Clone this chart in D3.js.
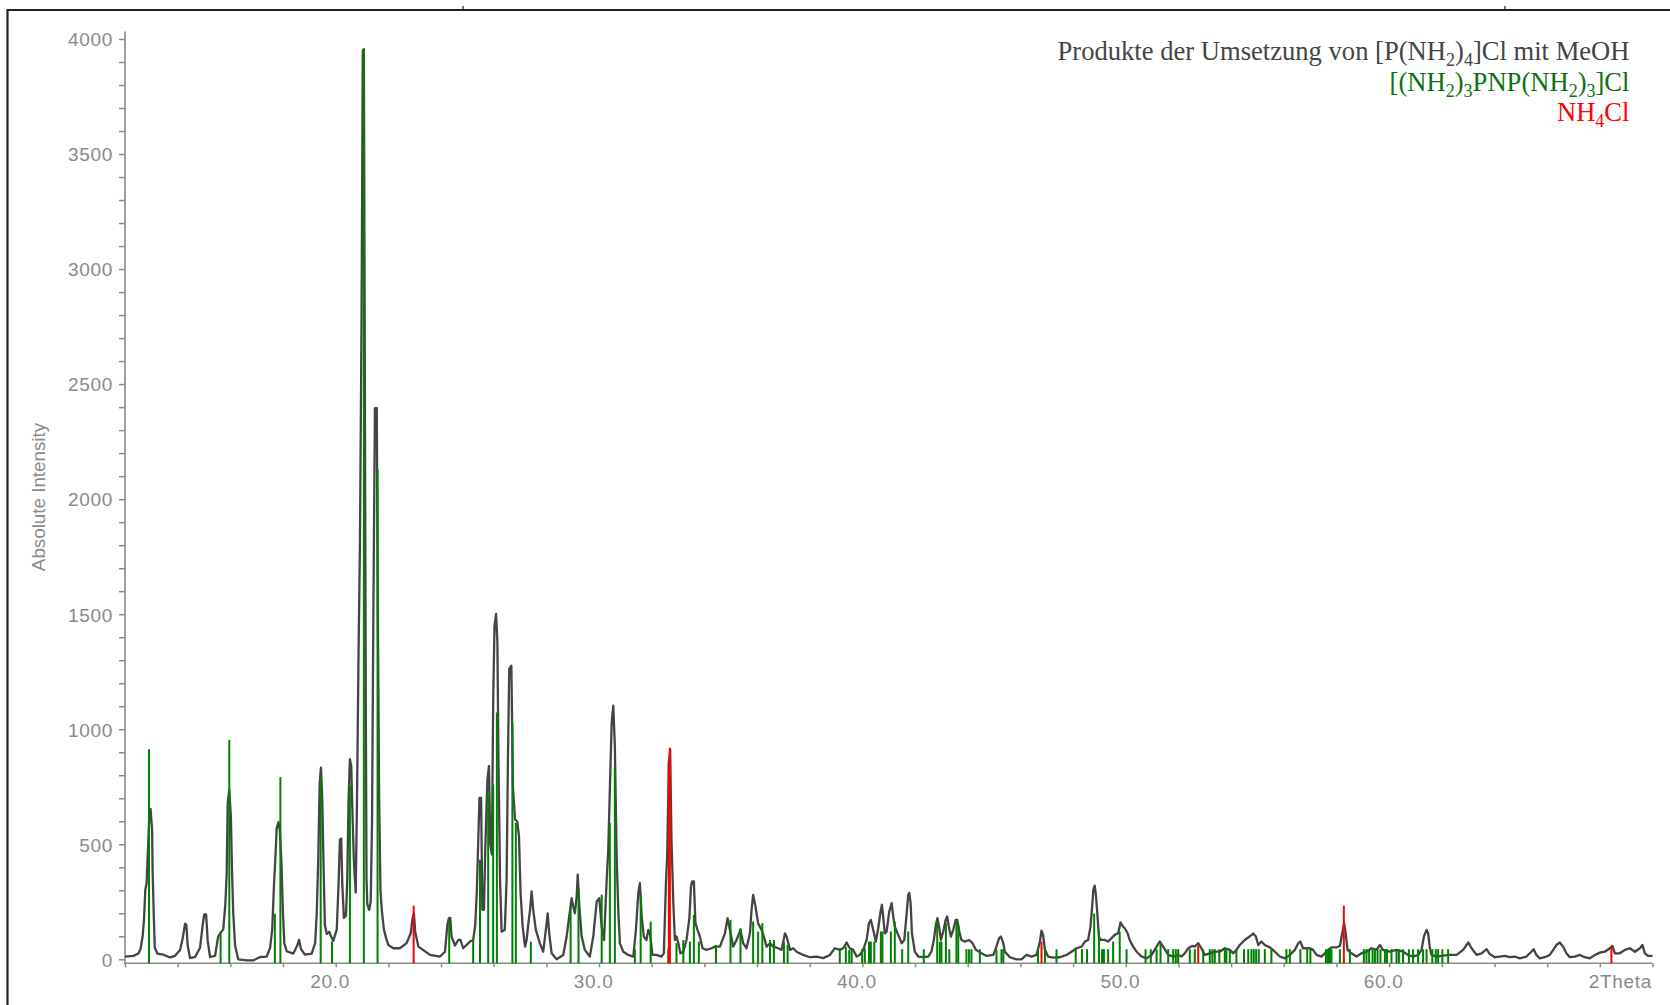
<!DOCTYPE html>
<html lang="de">
<head>
    <meta charset="UTF-8">
    <title>Pulverdiffraktogramm</title>
    <script src="https://cdn.jsdelivr.net/npm/d3@7/dist/d3.min.js"></script>
    <style>
        body {
            margin: 0;
            padding: 0;
            background: #fff;
        }
        .axis path {
            display: none;
        }
        .axis line {
            stroke: #8a8a8a;
            stroke-width: 1.5;
        }
        .axis text {
            fill: #8a8a8a;
            font-family: "Liberation Sans", Arial, sans-serif;
            font-size: 19px;
            letter-spacing: 0.7px;
        }
        .profile {
            fill: none;
            stroke: #444;
            stroke-width: 2.3;
            stroke-linejoin: round;
        }
        .legend {
            font-family: "Liberation Serif", "Times New Roman", serif;
            font-size: 26.6px;
            text-anchor: end;
        }
    </style>
</head>
<body>
<svg width="1670" height="1005"></svg>
<script>
    // gemessenes Profil: [2Theta, Intensitaet]
    var profile = [
        [12.00,12],[12.32,15],[12.51,25],[12.59,45],[12.67,100],[12.72,170],[12.77,300],[12.82,330],[12.87,470],[12.92,610],
        [12.97,654],[13.03,560],[13.05,380],[13.09,200],[13.13,50],[13.23,25],[13.46,20],[13.71,8],[13.90,15],[14.09,40],
        [14.19,90],[14.28,155],[14.33,150],[14.38,60],[14.47,5],[14.66,10],[14.85,50],[14.95,150],[15.01,195],[15.08,195],
        [15.14,80],[15.23,10],[15.42,15],[15.54,100],[15.63,115],[15.73,130],[15.81,240],[15.86,370],[15.90,680],[15.96,735],
        [16.02,620],[16.06,400],[16.11,200],[16.18,60],[16.30,0],[16.62,-5],[16.87,-5],[17.13,10],[17.38,12],[17.51,50],
        [17.59,130],[17.66,330],[17.71,440],[17.76,570],[17.83,596],[17.88,560],[17.94,420],[17.99,220],[18.05,70],[18.14,35],
        [18.39,25],[18.54,60],[18.61,85],[18.68,45],[18.83,20],[19.09,25],[19.22,70],[19.28,200],[19.34,440],[19.39,760],
        [19.44,833],[19.49,700],[19.54,400],[19.59,150],[19.66,110],[19.76,120],[19.82,100],[19.91,80],[20.04,130],[20.11,330],
        [20.16,520],[20.21,525],[20.25,330],[20.31,180],[20.39,190],[20.44,350],[20.49,700],[20.54,870],[20.59,840],[20.64,620],
        [20.69,430],[20.76,290],[20.81,700],[20.87,1350],[20.92,1800],[20.98,2750],[21.03,3950],[21.07,3956],[21.10,2800],[21.14,1200],
        [21.17,350],[21.20,240],[21.27,215],[21.33,250],[21.38,600],[21.43,1500],[21.49,2396],[21.56,2396],[21.60,1500],[21.65,700],
        [21.70,300],[21.75,215],[21.83,130],[21.92,90],[22.00,62],[22.19,48],[22.44,48],[22.69,70],[22.85,113],[22.92,180],
        [22.97,200],[23.02,120],[23.14,55],[23.33,40],[23.58,19],[23.96,12],[24.15,33],[24.24,150],[24.30,179],[24.35,180],
        [24.40,99],[24.53,60],[24.66,84],[24.74,84],[24.84,48],[25.10,77],[25.22,84],[25.30,150],[25.36,300],[25.41,500],
        [25.46,702],[25.52,702],[25.57,215],[25.63,215],[25.68,477],[25.76,782],[25.82,840],[25.87,500],[25.93,455],[25.98,1116],
        [26.03,1450],[26.09,1501],[26.14,1378],[26.18,870],[26.24,346],[26.30,120],[26.42,128],[26.49,346],[26.54,869],[26.59,1262],
        [26.67,1276],[26.73,750],[26.81,608],[26.89,600],[26.96,535],[27.02,288],[27.10,142],[27.19,55],[27.25,84],[27.31,150],
        [27.38,215],[27.44,295],[27.50,215],[27.60,128],[27.75,70],[27.88,33],[27.98,128],[28.05,200],[28.11,110],[28.20,26],
        [28.39,0],[28.64,19],[28.77,99],[28.87,190],[28.96,266],[29.02,230],[29.08,200],[29.15,273],[29.19,368],[29.25,230],
        [29.34,99],[29.46,41],[29.65,12],[29.78,99],[29.91,251],[30.01,266],[30.10,142],[30.19,84],[30.29,346],[30.35,477],
        [30.41,738],[30.48,1029],[30.54,1102],[30.60,927],[30.67,433],[30.73,215],[30.79,70],[30.92,33],[31.11,19],[31.30,12],
        [31.40,128],[31.49,288],[31.55,331],[31.62,186],[31.70,99],[31.80,84],[31.87,128],[31.93,115],[32.03,19],[32.18,19],
        [32.37,12],[32.46,26],[32.54,331],[32.59,462],[32.65,855],[32.70,913],[32.75,520],[32.82,244],[32.88,84],[32.94,99],
        [33.01,70],[33.09,26],[33.20,33],[33.32,84],[33.43,179],[33.49,317],[33.54,339],[33.60,339],[33.66,157],[33.74,128],
        [33.83,99],[33.93,48],[34.08,41],[34.27,48],[34.40,55],[34.59,55],[34.78,113],[34.88,179],[34.97,128],[35.09,55],
        [35.22,84],[35.37,128],[35.47,70],[35.60,48],[35.73,113],[35.79,215],[35.85,280],[35.94,230],[36.04,157],[36.17,128],
        [36.26,99],[36.36,55],[36.49,70],[36.61,55],[36.80,48],[36.93,41],[37.06,113],[37.12,99],[37.25,41],[37.37,48],
        [37.50,33],[37.75,19],[38.01,9],[38.26,12],[38.51,5],[38.77,19],[38.95,48],[39.14,41],[39.27,48],[39.40,73],
        [39.52,48],[39.65,41],[39.78,12],[39.90,19],[40.03,41],[40.16,84],[40.25,157],[40.32,171],[40.41,128],[40.51,77],
        [40.60,135],[40.69,208],[40.74,237],[40.79,186],[40.85,113],[40.92,120],[41.02,208],[41.11,244],[41.17,186],[41.23,142],
        [41.36,106],[41.49,70],[41.59,84],[41.68,200],[41.74,280],[41.78,288],[41.83,244],[41.88,113],[41.99,33],[42.12,12],
        [42.31,9],[42.50,12],[42.62,33],[42.71,84],[42.79,150],[42.85,179],[42.92,135],[42.98,84],[43.07,121],[43.16,171],
        [43.22,186],[43.28,142],[43.36,99],[43.45,128],[43.54,171],[43.60,171],[43.68,121],[43.76,84],[43.89,77],[44.05,84],
        [44.18,70],[44.31,41],[44.52,26],[44.71,15],[44.97,19],[45.09,55],[45.19,92],[45.26,99],[45.35,70],[45.41,33],
        [45.60,9],[45.85,0],[46.04,0],[46.23,19],[46.42,12],[46.61,19],[46.74,77],[46.80,125],[46.86,106],[46.93,41],
        [47.05,12],[47.24,7],[47.50,9],[47.75,19],[47.94,33],[48.13,48],[48.32,55],[48.45,77],[48.57,84],[48.66,142],
        [48.72,222],[48.77,302],[48.82,320],[48.86,288],[48.91,215],[48.98,99],[49.05,84],[49.21,84],[49.33,77],[49.46,92],
        [49.58,106],[49.71,113],[49.80,160],[49.88,145],[49.96,135],[50.07,113],[50.15,84],[50.28,55],[50.41,33],[50.60,12],
        [50.79,4],[50.98,19],[51.17,55],[51.29,77],[51.42,55],[51.61,19],[51.80,12],[51.99,19],[52.12,12],[52.24,26],
        [52.37,48],[52.52,58],[52.62,55],[52.75,70],[52.87,48],[53.00,19],[53.19,26],[53.38,33],[53.57,33],[53.76,48],
        [53.95,41],[54.08,26],[54.20,41],[54.33,62],[54.52,84],[54.71,100],[54.84,112],[54.94,99],[55.03,62],[55.15,77],
        [55.28,62],[55.47,52],[55.66,33],[55.85,12],[56.04,4],[56.23,19],[56.42,41],[56.55,70],[56.63,77],[56.73,48],
        [56.99,48],[57.11,41],[57.24,19],[57.43,12],[57.56,26],[57.68,41],[57.81,52],[58.00,52],[58.13,58],[58.22,113],
        [58.29,157],[58.35,113],[58.42,41],[58.57,26],[58.76,12],[58.95,26],[59.14,33],[59.33,48],[59.52,41],[59.65,62],
        [59.77,41],[60.02,33],[60.28,41],[60.53,33],[60.72,19],[60.91,12],[61.10,19],[61.23,41],[61.32,99],[61.42,128],
        [61.48,113],[61.54,55],[61.61,19],[61.80,12],[62.05,16],[62.30,19],[62.56,19],[62.81,41],[62.94,62],[63.01,73],
        [63.13,48],[63.32,19],[63.51,26],[63.70,44],[63.82,23],[64.01,9],[64.20,12],[64.39,15],[64.58,9],[64.77,12],
        [64.96,4],[65.21,12],[65.40,33],[65.49,44],[65.59,19],[65.72,4],[65.91,9],[66.10,19],[66.23,41],[66.35,62],
        [66.48,73],[66.61,55],[66.73,26],[66.86,9],[67.05,12],[67.24,19],[67.43,9],[67.62,4],[67.81,19],[68.00,29],
        [68.19,33],[68.38,48],[68.48,58],[68.57,26],[68.76,26],[68.95,41],[69.14,48],[69.33,33],[69.52,48],[69.62,62],
        [69.71,26],[69.83,15],[70.00,15]
    ];

    // Referenzreflexe [(NH2)3PNP(NH2)3]Cl
    var pnpTheta = [12.91,15.63,15.96,17.69,17.90,19.43,19.86,20.54,21.07,21.59,24.31,25.22,25.48,25.79,25.98,26.12,26.71,26.84,27.41,
        28.92,29.22,30.10,30.41,30.60,31.36,31.58,31.96,32.63,32.94,33.20,33.45,33.60,33.79,34.44,34.99,35.37,35.85,36.04,36.20,
        36.49,36.64,37.02,37.16,39.14,39.37,39.50,39.59,39.99,40.09,40.25,40.32,40.45,40.70,40.76,41.08,41.23,41.51,41.74,42.33,
        42.84,42.94,43.00,43.17,43.30,43.57,43.64,43.95,44.05,44.14,44.46,45.09,45.28,45.35,46.67,46.93,47.37,48.10,48.34,48.53,
        48.80,48.98,49.10,49.17,49.33,49.52,49.77,50.03,50.75,50.95,51.17,51.32,51.61,51.80,51.90,51.99,52.43,52.62,52.94,53.19,
        53.29,53.38,53.55,53.76,53.82,53.95,54.20,54.49,54.65,54.77,54.86,54.95,55.05,55.28,55.53,56.10,56.23,56.63,56.89,57.01,
        57.60,57.68,57.75,57.81,58.13,58.51,59.04,59.14,59.24,59.37,59.46,59.56,59.67,59.84,59.92,60.09,60.28,60.37,60.53,60.75,
        60.91,61.10,61.29,61.42,61.64,61.77,61.86,62.02,62.24];
    var pnpInt = [913,120,953,198,792,792,77,756,3950,2130,164,84,433,717,760,1073,1029,593,77,
        230,310,281,593,833,44,281,164,44,70,84,77,193,77,62,171,135,164,120,157,
        84,84,77,62,48,55,41,48,44,48,77,77,77,121,121,121,164,44,121,44,
        164,77,77,157,44,164,150,44,44,44,44,44,44,44,44,44,44,44,44,44,
        198,121,44,44,44,77,121,44,44,44,44,77,44,44,44,44,44,44,44,44,
        44,44,44,44,44,44,44,44,44,44,44,44,44,44,44,44,44,44,44,44,
        44,44,44,44,44,44,44,44,44,44,44,44,44,44,44,44,44,44,44,44,
        44,44,44,44,44,44,44,44,44];

    // Referenzreflexe NH4Cl
    var nh4clTheta = [22.96, 32.65, 32.69, 46.80, 52.75, 58.28, 68.44];
    var nh4clInt = [233, 860, 920, 77, 58, 233, 58];

    var yTicks = d3.range(0, 4001, 100);
    var yLabels = [0, 500, 1000, 1500, 2000, 2500, 3000, 3500, 4000];
    var xTicks = d3.range(12, 70.01, 2);
    var xLabels = [20, 30, 40, 50, 60];

    var svg = d3.select('svg');
    var x = d3.scaleLinear().domain([12, 70]).range([125, 1652.5]);
    var y = d3.scaleLinear().domain([0, 4000]).range([959.3, 39]);
    var axisY = 963.3;

    // Rahmen oben / links
    svg.append('line').attr('x1', 7.5).attr('x2', 1670).attr('y1', 10).attr('y2', 10)
            .attr('stroke', '#222').attr('stroke-width', 2.2);
    svg.append('line').attr('x1', 7.5).attr('x2', 7.5).attr('y1', 9).attr('y2', 1005)
            .attr('stroke', '#222').attr('stroke-width', 2.2);
    [463, 1505].forEach(function (px) {
        svg.append('line').attr('x1', px).attr('x2', px).attr('y1', 6).attr('y2', 10)
                .attr('stroke', '#222').attr('stroke-width', 1.2);
    });

    // Achsen
    var gy = svg.append('g').attr('class', 'axis').attr('transform', 'translate(125,0)')
            .call(d3.axisLeft(y).tickValues(yTicks).tickSize(6).tickPadding(6)
                    .tickFormat(function (d) { return yLabels.indexOf(d) >= 0 ? d : ''; }));
    gy.selectAll('text').attr('dy', '0.36em');
    svg.append('line').attr('x1', 125).attr('x2', 125).attr('y1', 31.5).attr('y2', axisY + 0.7)
            .attr('stroke', '#8a8a8a').attr('stroke-width', 1.6);

    var gx = svg.append('g').attr('class', 'axis').attr('transform', 'translate(0,' + axisY + ')')
            .call(d3.axisBottom(x).tickValues(xTicks).tickSize(4).tickPadding(7)
                    .tickFormat(function (d) { return xLabels.indexOf(d) >= 0 ? d.toFixed(1) : ''; }));
    gx.selectAll('text').attr('dx', -6);
    svg.append('line').attr('x1', 124.2).attr('x2', 1652.5).attr('y1', axisY).attr('y2', axisY)
            .attr('stroke', '#8a8a8a').attr('stroke-width', 1.6);

    svg.append('text').attr('x', 1652).attr('y', 987.5)
            .attr('text-anchor', 'end').attr('fill', '#8a8a8a')
            .style('font-family', '"Liberation Sans", Arial, sans-serif')
            .style('font-size', '19px').style('letter-spacing', '0.7px')
            .text('2Theta');

    svg.append('text').attr('transform', 'translate(45,497) rotate(-90)')
            .attr('text-anchor', 'middle').attr('fill', '#8a8a8a')
            .style('font-family', '"Liberation Sans", Arial, sans-serif')
            .style('font-size', '18.8px')
            .text('Absolute Intensity');

    // Profil
    var line = d3.line()
            .x(function (d) { return x(d[0]); })
            .y(function (d) { return y(d[1]); });
    svg.append('path').datum(profile).attr('class', 'profile').attr('d', line);

    // Stabdiagramme
    svg.append('g').selectAll('line').data(pnpTheta).enter().append('line')
            .attr('x1', function (d) { return x(d); })
            .attr('x2', function (d) { return x(d); })
            .attr('y1', axisY)
            .attr('y2', function (d, i) { return y(pnpInt[i]); })
            .attr('stroke', '#008000').attr('stroke-width', 2);
    svg.append('g').selectAll('line').data(nh4clTheta).enter().append('line')
            .attr('x1', function (d) { return x(d); })
            .attr('x2', function (d) { return x(d); })
            .attr('y1', axisY)
            .attr('y2', function (d, i) { return y(nh4clInt[i]); })
            .attr('stroke', '#ff0000').attr('stroke-width', 2);

    // Legende
    var leg = svg.append('g').attr('class', 'legend');
    var t1 = leg.append('text').attr('x', 1629.5).attr('y', 60).attr('fill', '#444');
    t1.append('tspan').text('Produkte der Umsetzung von [P(NH');
    t1.append('tspan').attr('dy', 6).style('font-size', '18px').text('2');
    t1.append('tspan').attr('dy', -6).text(')');
    t1.append('tspan').attr('dy', 6).style('font-size', '18px').text('4');
    t1.append('tspan').attr('dy', -6).text(']Cl mit MeOH');

    var t2 = leg.append('text').attr('x', 1629.5).attr('y', 90.5).attr('fill', '#0b720b');
    t2.append('tspan').text('[(NH');
    t2.append('tspan').attr('dy', 6).style('font-size', '18px').text('2');
    t2.append('tspan').attr('dy', -6).text(')');
    t2.append('tspan').attr('dy', 6).style('font-size', '18px').text('3');
    t2.append('tspan').attr('dy', -6).text('PNP(NH');
    t2.append('tspan').attr('dy', 6).style('font-size', '18px').text('2');
    t2.append('tspan').attr('dy', -6).text(')');
    t2.append('tspan').attr('dy', 6).style('font-size', '18px').text('3');
    t2.append('tspan').attr('dy', -6).text(']Cl');

    var t3 = leg.append('text').attr('x', 1629.5).attr('y', 120.5).attr('fill', '#ff0000');
    t3.append('tspan').text('NH');
    t3.append('tspan').attr('dy', 6).style('font-size', '18px').text('4');
    t3.append('tspan').attr('dy', -6).text('Cl');
</script>
</body>
</html>
